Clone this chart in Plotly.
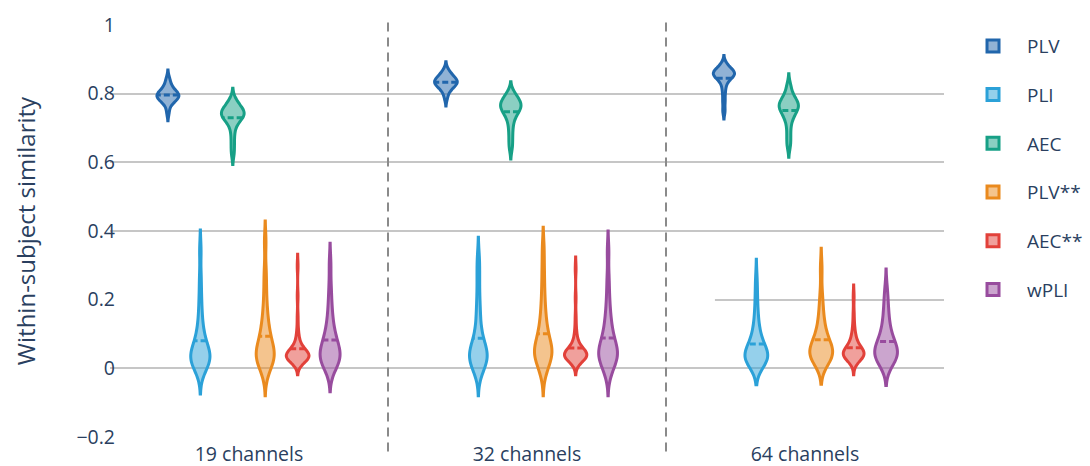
import plotly.graph_objects as go

# Channel-count groups shown along the x axis
groups = ["19 channels", "32 channels", "64 channels"]

# Within-subject similarity samples per measure and channel count
plv_19 = [0.745, 0.766, 0.774, 0.779, 0.783, 0.786, 0.788, 0.790, 0.792, 0.794,
          0.796, 0.798, 0.800, 0.803, 0.806, 0.810, 0.815, 0.822, 0.832, 0.845]
plv_32 = [0.788, 0.804, 0.812, 0.818, 0.822, 0.825, 0.828, 0.830, 0.832, 0.834,
          0.836, 0.838, 0.840, 0.843, 0.846, 0.850, 0.855, 0.861, 0.869]
plv_64 = [0.750, 0.778, 0.803, 0.822, 0.834, 0.842, 0.847, 0.851, 0.853, 0.855,
          0.857, 0.859, 0.861, 0.863, 0.866, 0.869, 0.873, 0.879, 0.887]

pli_19 = [-0.015, -0.002, 0.006, 0.012, 0.017, 0.021, 0.025, 0.028, 0.031, 0.034,
          0.038, 0.042, 0.047, 0.052, 0.058, 0.065, 0.073, 0.082, 0.094, 0.108,
          0.125, 0.148, 0.178, 0.215, 0.265, 0.343]
pli_32 = [-0.020, -0.006, 0.004, 0.011, 0.017, 0.022, 0.026, 0.030, 0.034, 0.038,
          0.042, 0.047, 0.052, 0.058, 0.065, 0.073, 0.082, 0.093, 0.106, 0.128,
          0.150, 0.175, 0.205, 0.245, 0.285, 0.322]
pli_64 = [0.012, 0.015, 0.018, 0.020, 0.023, 0.025, 0.027, 0.029, 0.031, 0.033,
          0.034, 0.036, 0.037, 0.040, 0.044, 0.048, 0.052, 0.057, 0.062, 0.068,
          0.075, 0.083, 0.092, 0.103, 0.116, 0.132, 0.152, 0.180, 0.215, 0.258]

aec_19 = [0.626, 0.652, 0.678, 0.700, 0.714, 0.722, 0.727, 0.731, 0.734, 0.737,
          0.740, 0.743, 0.746, 0.749, 0.752, 0.756, 0.760, 0.766, 0.774, 0.784]
aec_32 = [0.642, 0.665, 0.688, 0.708, 0.724, 0.735, 0.742, 0.748, 0.753, 0.757,
          0.761, 0.764, 0.767, 0.770, 0.774, 0.778, 0.783, 0.789, 0.796, 0.803]
aec_64 = [0.647, 0.668, 0.690, 0.712, 0.726, 0.736, 0.743, 0.749, 0.754, 0.758,
          0.762, 0.765, 0.768, 0.772, 0.776, 0.781, 0.787, 0.795, 0.808, 0.826]

plv_ss_19 = [-0.020, -0.004, 0.007, 0.015, 0.021, 0.026, 0.031, 0.035, 0.039, 0.043,
             0.048, 0.053, 0.059, 0.066, 0.074, 0.083, 0.093, 0.102, 0.115, 0.130,
             0.148, 0.170, 0.200, 0.240, 0.285, 0.369]
plv_ss_32 = [-0.020, -0.002, 0.010, 0.019, 0.026, 0.032, 0.037, 0.042, 0.046, 0.050,
             0.055, 0.060, 0.066, 0.073, 0.081, 0.090, 0.100, 0.112, 0.126, 0.142,
             0.162, 0.186, 0.216, 0.254, 0.298, 0.351]
plv_ss_64 = [0.014, 0.020, 0.025, 0.029, 0.033, 0.036, 0.039, 0.042, 0.045, 0.048,
             0.051, 0.055, 0.059, 0.064, 0.070, 0.077, 0.085, 0.094, 0.105, 0.118,
             0.134, 0.154, 0.180, 0.215, 0.290]

aec_ss_19 = [0.015, 0.019, 0.022, 0.024, 0.026, 0.027, 0.028, 0.029, 0.030, 0.031,
             0.031, 0.032, 0.033, 0.034, 0.035, 0.035, 0.036, 0.037, 0.038, 0.039,
             0.039, 0.040, 0.041, 0.042, 0.043, 0.044, 0.046, 0.048, 0.050, 0.053,
             0.056, 0.060, 0.064, 0.069, 0.076, 0.085, 0.097, 0.115, 0.150, 0.210,
             0.298]
aec_ss_32 = [0.015, 0.020, 0.023, 0.026, 0.028, 0.029, 0.030, 0.031, 0.032, 0.033,
             0.034, 0.035, 0.036, 0.037, 0.038, 0.038, 0.039, 0.040, 0.041, 0.042,
             0.042, 0.043, 0.044, 0.045, 0.046, 0.047, 0.049, 0.051, 0.053, 0.056,
             0.059, 0.063, 0.067, 0.072, 0.079, 0.088, 0.100, 0.118, 0.150, 0.205,
             0.290]
aec_ss_64 = [0.015, 0.021, 0.025, 0.028, 0.030, 0.032, 0.034, 0.035, 0.036, 0.037,
             0.038, 0.039, 0.040, 0.041, 0.042, 0.043, 0.044, 0.045, 0.046, 0.047,
             0.048, 0.050, 0.052, 0.054, 0.056, 0.059, 0.062, 0.065, 0.069, 0.073,
             0.078, 0.084, 0.091, 0.100, 0.112, 0.130, 0.160, 0.209]

wpli_19 = [-0.008, 0.003, 0.010, 0.016, 0.021, 0.025, 0.029, 0.033, 0.037, 0.041,
           0.045, 0.050, 0.055, 0.061, 0.068, 0.076, 0.081, 0.091, 0.101, 0.114,
           0.128, 0.148, 0.170, 0.200, 0.240, 0.304]
wpli_32 = [-0.020, -0.004, 0.007, 0.015, 0.022, 0.027, 0.032, 0.036, 0.040, 0.044,
           0.048, 0.053, 0.058, 0.064, 0.071, 0.079, 0.088, 0.098, 0.110, 0.124,
           0.140, 0.160, 0.185, 0.220, 0.265, 0.340]
wpli_64 = [0.010, 0.017, 0.022, 0.027, 0.031, 0.035, 0.038, 0.041, 0.044, 0.047,
           0.050, 0.054, 0.058, 0.063, 0.069, 0.076, 0.084, 0.093, 0.104, 0.117,
           0.132, 0.150, 0.172, 0.198, 0.229]

measures = ["PLV", "PLI", "AEC", "PLV**", "AEC**", "wPLI"]
samples = {
    "PLV": [plv_19, plv_32, plv_64],
    "PLI": [pli_19, pli_32, pli_64],
    "AEC": [aec_19, aec_32, aec_64],
    "PLV**": [plv_ss_19, plv_ss_32, plv_ss_64],
    "AEC**": [aec_ss_19, aec_ss_32, aec_ss_64],
    "wPLI": [wpli_19, wpli_32, wpli_64],
}

# Styling
colors = {
    "PLV": (33, 102, 172),
    "PLI": (43, 161, 216),
    "AEC": (23, 160, 134),
    "PLV**": (234, 138, 30),
    "AEC**": (226, 65, 58),
    "wPLI": (152, 76, 158),
}
bandwidths = {"PLV": 0.012, "PLI": 0.03, "AEC": 0.016,
              "PLV**": 0.03, "AEC**": 0.017, "wPLI": 0.03}

FONT = "Open Sans, Noto Sans, sans-serif"
TEXT = "#2a3f5f"

fig = go.Figure()
for m in measures:
    xs, ys = [], []
    for g, vals in zip(groups, samples[m]):
        xs += [g] * len(vals)
        ys += vals
    r, g_, b = colors[m]
    fig.add_trace(go.Violin(
        x=xs, y=ys, name=m, legendgroup=m, offsetgroup=m,
        line=dict(color=f"rgb({r},{g_},{b})", width=3),
        fillcolor=f"rgba({r},{g_},{b},0.5)",
        bandwidth=bandwidths[m],
        meanline=dict(visible=True, width=3),
        points=False,
        hoveron="violins",
    ))

shapes = [
    dict(type="line", xref="x", yref="paper", x0=x, x1=x, y0=-0.035, y1=1.02,
         line=dict(color="#8a8a8a", width=2, dash="9px,6px"))
    for x in (0.5, 1.5)
]
# the 0.2 reference line only runs across the right-hand group
shapes.append(dict(type="rect", xref="x", yref="y", x0=-0.5, x1=1.676,
                   y0=0.194, y1=0.206, fillcolor="white", line=dict(width=0),
                   layer="between"))

fig.update_layout(
    width=1090, height=466,
    margin=dict(l=110, r=146, t=25, b=29, autoexpand=False),
    paper_bgcolor="white", plot_bgcolor="white",
    font=dict(family=FONT, size=19, color=TEXT),
    violinmode="group",
    shapes=shapes,
    legend=dict(x=1.018, y=0.995, xanchor="left", yanchor="top",
                itemwidth=58,
                font=dict(size=19, color=TEXT), tracegroupgap=21),
    xaxis=dict(showgrid=False, zeroline=False, showline=False,
               tickfont=dict(size=19.5), range=[-0.5, 2.5], automargin=False,
               ticklabelstandoff=3),
    yaxis=dict(range=[-0.2, 1.0], dtick=0.2, showgrid=True,
               gridcolor="#c6c6c6", gridwidth=1.6, zeroline=False,
               showline=False, tickfont=dict(size=19.5), automargin=False,
               ticklabelstandoff=-6,
               title=dict(text="Within-subject similarity",
                          font=dict(size=24), standoff=34)),
)

fig.write_html("out.html")
